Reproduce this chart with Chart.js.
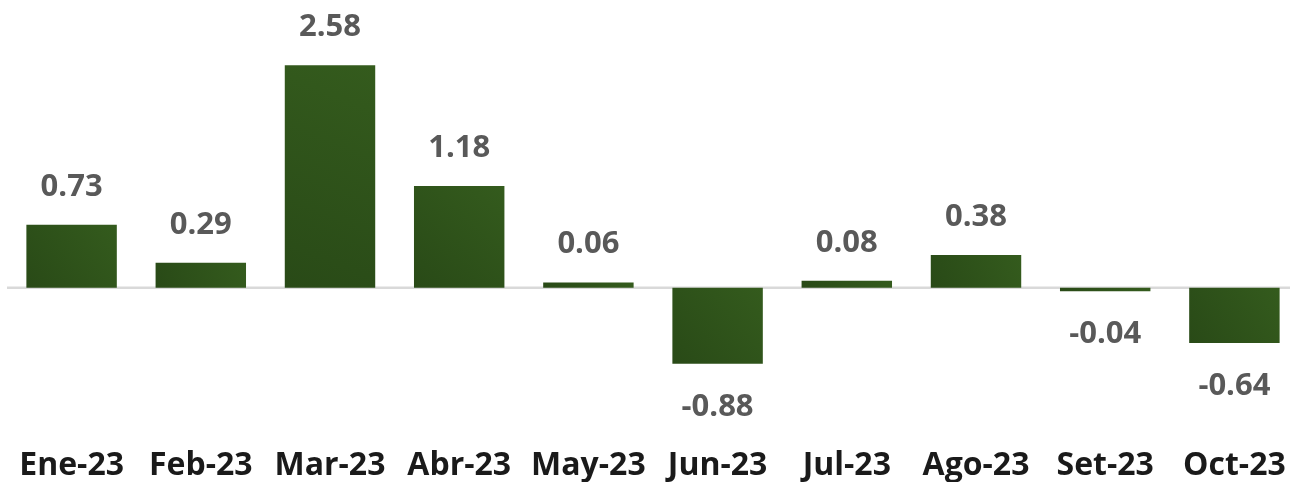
<!DOCTYPE html>
<html>
<head>
<meta charset="utf-8">
<script src="https://cdn.jsdelivr.net/npm/chart.js@4/dist/chart.umd.min.js"></script>
<style>
  html, body { margin: 0; padding: 0; background: #ffffff; overflow: hidden; }
  #wrap { width: 1290px; height: 482px; overflow: hidden; position: relative; }
  #box { width: 1300px; height: 482px; position: absolute; left: 0; top: 0; }
</style>
</head>
<body>
<div id="wrap"><div id="box"><canvas id="c"></canvas></div></div>
<script>
const categories = ["Ene-23", "Feb-23", "Mar-23", "Abr-23", "May-23", "Jun-23", "Jul-23", "Ago-23", "Set-23", "Oct-23"];
const values = [0.73, 0.29, 2.58, 1.18, 0.06, -0.88, 0.08, 0.38, -0.04, -0.64];
const yMin = -1.88;
const yMax = 3.3;

const FONT = "'Open Sans', 'Noto Sans', sans-serif";

const zeroLinePlugin = {
  id: 'zeroLine',
  beforeDatasetsDraw(chart) {
    const { ctx, chartArea, scales } = chart;
    const y = scales.y.getPixelForValue(0);
    ctx.save();
    ctx.strokeStyle = '#d9d9d9';
    ctx.lineWidth = 2.5;
    ctx.beginPath();
    ctx.moveTo(chartArea.left, y);
    ctx.lineTo(chartArea.right, y);
    ctx.stroke();
    ctx.restore();
  }
};

const valueLabelPlugin = {
  id: 'valueLabels',
  afterDatasetsDraw(chart) {
    const { ctx } = chart;
    const meta = chart.getDatasetMeta(0);
    ctx.save();
    ctx.font = "bold 31px " + FONT;
    ctx.fillStyle = '#595959';
    ctx.textAlign = 'center';
    ctx.textBaseline = 'middle';
    meta.data.forEach((bar, i) => {
      const v = values[i];
      const y = v >= 0 ? bar.y - 38 : bar.y + 43;
      ctx.fillText(v.toFixed(2), bar.x, y);
    });
    ctx.restore();
  }
};

function barGradient(context) {
  const chart = context.chart;
  const { ctx, chartArea, scales } = chart;
  if (!chartArea || !scales.x || !scales.y || context.type !== 'data') return '#30561b';
  const i = context.dataIndex;
  const v = values[i];
  const cx = scales.x.getPixelForValue(i);
  const half = scales.x.width / categories.length * 0.35;
  const y0 = scales.y.getPixelForValue(0);
  const y1 = scales.y.getPixelForValue(v);
  const top = Math.min(y0, y1), bottom = Math.max(y0, y1);
  const g = ctx.createLinearGradient(cx - half, bottom, cx + half, top);
  g.addColorStop(0, '#294a17');
  g.addColorStop(1, '#345b1d');
  return g;
}

new Chart(document.getElementById('c'), {
  type: 'bar',
  data: {
    labels: categories,
    datasets: [{
      data: values,
      backgroundColor: barGradient,
      borderWidth: 0,
      categoryPercentage: 1.0,
      barPercentage: 0.70
    }]
  },
  options: {
    responsive: true,
    maintainAspectRatio: false,
    animation: false,
    layout: { padding: { left: 7, right: 1, top: 3, bottom: 0 } },
    plugins: { legend: { display: false }, tooltip: { enabled: false } },
    scales: {
      x: {
        offset: true,
        grid: { display: false, drawTicks: false },
        border: { display: false },
        ticks: {
          padding: 0,
          color: '#1a1a1a',
          font: { family: FONT, size: 32, weight: 'bold', lineHeight: 1 },
          maxRotation: 0,
          autoSkip: false
        }
      },
      y: {
        display: false,
        min: yMin,
        max: yMax
      }
    }
  },
  plugins: [zeroLinePlugin, valueLabelPlugin]
});
</script>
</body>
</html>
